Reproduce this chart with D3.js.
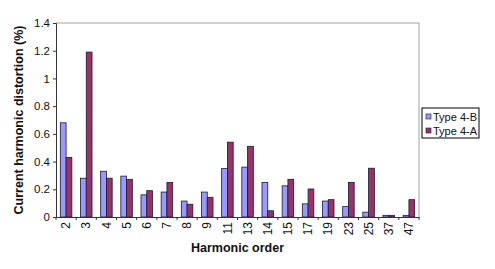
<!DOCTYPE html>
<html>
<head>
<meta charset="utf-8">
<script src="https://cdn.jsdelivr.net/npm/d3@7"></script>
<style>
  body { margin: 0; background: #fff; }
  svg { display: block; font-family: Arial, "Liberation Sans", sans-serif; }
</style>
</head>
<body>
<div id="chart"></div>
<script>
const harmonics = ['2', '3', '4', '5', '6', '7', '8', '9', '11', '13', '14', '15', '17', '19', '23', '25', '37', '47'];
const type4B = [0.68, 0.28, 0.33, 0.295, 0.16, 0.18, 0.115, 0.18, 0.35, 0.36, 0.25, 0.225, 0.095, 0.115, 0.075, 0.035, 0.012, 0.012];
const type4A = [0.43, 1.19, 0.28, 0.272, 0.19, 0.25, 0.092, 0.142, 0.54, 0.51, 0.045, 0.272, 0.202, 0.125, 0.25, 0.352, 0.012, 0.125];
const seriesNames = ['Type 4-B', 'Type 4-A'];
const yTicks = [0, 0.2, 0.4, 0.6, 0.8, 1, 1.2, 1.4];

const W = 495, H = 269;
const m = { left: 56, right: 76, top: 23, bottom: 52 };
const colors = ['#9999ff', '#993366'];

const svg = d3.select('#chart').append('svg')
  .attr('width', W)
  .attr('height', H);

const x = d3.scaleBand()
  .domain(harmonics)
  .range([m.left, W - m.right])
  .paddingInner(0.4286)
  .paddingOuter(0.2143);

const xs = d3.scaleBand()
  .domain(seriesNames)
  .range([0, x.bandwidth()]);

const y = d3.scaleLinear()
  .domain([0, 1.4])
  .range([H - m.bottom, m.top]);

// plot area border (top + right)
svg.append('path')
  .attr('d', `M${m.left},${m.top}H${W - m.right}V${H - m.bottom}`)
  .attr('fill', 'none')
  .attr('stroke', '#a0a0a0')
  .attr('stroke-width', 1);

// bars
const rows = harmonics.map((h, i) => ({ h, vals: [type4B[i], type4A[i]] }));
const groups = svg.append('g').selectAll('g')
  .data(rows)
  .join('g')
    .attr('transform', d => `translate(${x(d.h)},0)`);

groups.selectAll('rect')
  .data(d => d.vals.map((v, j) => ({ v, name: seriesNames[j], j })))
  .join('rect')
    .attr('x', d => xs(d.name))
    .attr('y', d => y(d.v))
    .attr('width', xs.bandwidth())
    .attr('height', d => y(0) - y(d.v))
    .attr('fill', d => colors[d.j])
    .attr('stroke', '#1a1a33')
    .attr('stroke-width', 0.8);

// y axis
const yAxis = svg.append('g')
  .attr('transform', `translate(${m.left},0)`)
  .call(d3.axisLeft(y).tickValues(yTicks).tickSize(3).tickPadding(3).tickFormat(d3.format('')));
yAxis.select('.domain').attr('stroke', '#333');
yAxis.selectAll('.tick line').attr('stroke', '#333');
yAxis.selectAll('text')
  .attr('font-size', 11.5)
  .attr('fill', '#111')
  .attr('font-family', 'Arial, "Liberation Sans", sans-serif');

// x axis
const xAxis = svg.append('g')
  .attr('transform', `translate(0,${y(0)})`)
  .call(d3.axisBottom(x).tickSize(0).tickPadding(5));
xAxis.select('.domain').attr('stroke', '#333');
xAxis.selectAll('text')
  .attr('font-size', 12)
  .attr('fill', '#111')
  .attr('font-family', 'Arial, "Liberation Sans", sans-serif')
  .attr('transform', 'rotate(-90)')
  .attr('text-anchor', 'end')
  .attr('x', -5)
  .attr('y', 0)
  .attr('dy', '0.35em');

// x ticks between categories
const step = x.step();
const sep = d3.range(harmonics.length + 1).map(i => m.left + i * step);
svg.append('g').selectAll('line')
  .data(sep)
  .join('line')
    .attr('x1', d => d).attr('x2', d => d)
    .attr('y1', y(0)).attr('y2', y(0) + 3)
    .attr('stroke', '#333');

// axis titles
svg.append('text')
  .attr('transform', `translate(23,${(m.top + H - m.bottom) / 2}) rotate(-90)`)
  .attr('text-anchor', 'middle')
  .attr('font-size', 12.5)
  .attr('font-weight', 'bold')
  .attr('fill', '#111')
  .text('Current harmonic distortion (%)');

svg.append('text')
  .attr('x', (m.left + W - m.right) / 2)
  .attr('y', 252)
  .attr('text-anchor', 'middle')
  .attr('font-size', 12.5)
  .attr('font-weight', 'bold')
  .attr('fill', '#111')
  .text('Harmonic order');

// legend
const legend = svg.append('g').attr('transform', 'translate(422,108)');
legend.append('rect')
  .attr('width', 57)
  .attr('height', 30)
  .attr('fill', '#fff')
  .attr('stroke', '#000')
  .attr('stroke-width', 1);
const li = legend.selectAll('g')
  .data(seriesNames)
  .join('g')
    .attr('transform', (d, i) => `translate(4,${9 + i * 14})`);
li.append('rect')
  .attr('x', 0).attr('y', -3)
  .attr('width', 5).attr('height', 5)
  .attr('fill', (d, i) => colors[i])
  .attr('stroke', '#1a1a33')
  .attr('stroke-width', 0.6);
li.append('text')
  .attr('x', 7)
  .attr('dy', '0.35em')
  .attr('font-size', 11)
  .attr('fill', '#111')
  .text(d => d);
</script>
</body>
</html>
